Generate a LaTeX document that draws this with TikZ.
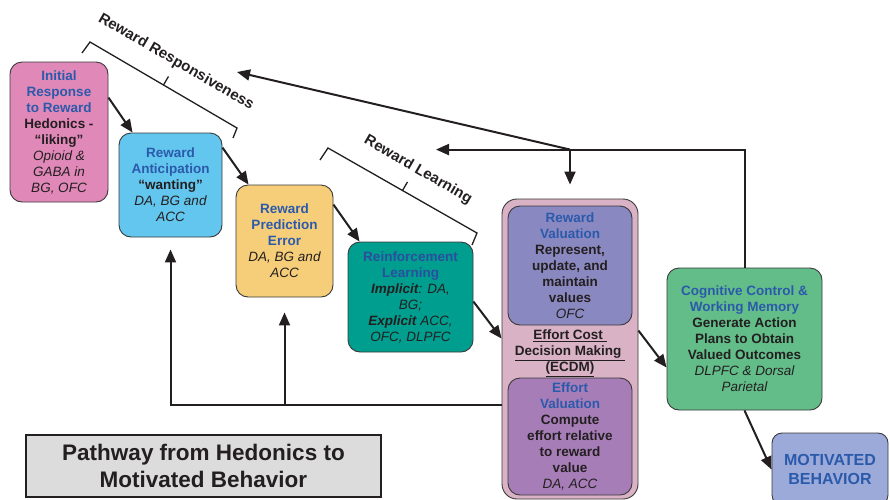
\documentclass[tikz,border=0pt]{standalone}
\usepackage{fontspec}
\setmainfont{Liberation Sans}
\usetikzlibrary{arrows.meta}

\definecolor{ink}{HTML}{231F20}
\definecolor{edge}{HTML}{3A3A3A}
\definecolor{tblue}{HTML}{2B5AAB}
\definecolor{rlblue}{HTML}{2A4FA0}
\definecolor{cpink}{HTML}{E088B8}
\definecolor{csky}{HTML}{62C6EE}
\definecolor{cyellow}{HTML}{F6CE7A}
\definecolor{cteal}{HTML}{009E8E}
\definecolor{cmauve}{HTML}{D9B2C6}
\definecolor{cviolet}{HTML}{8A88C0}
\definecolor{cplum}{HTML}{A77DB8}
\definecolor{cgreen}{HTML}{63BD89}
\definecolor{cperi}{HTML}{9BAAD9}
\definecolor{cgray}{HTML}{DCDCDC}

% heading lines in blue, brain-region lines in upright-weight italics
\newcommand\hd[1]{\textcolor{tblue}{#1}}
\newcommand\brain[1]{{\mdseries\itshape #1}}

\begin{document}
\begin{tikzpicture}[x=1pt,y=-1pt,
  box/.style={draw=edge, line width=0.9pt, rounded corners=12pt, inner sep=0pt,
    align=center, text=ink, font=\fontsize{13.5}{16}\selectfont\bfseries},
  arr/.style={draw=ink, line width=2pt, line join=miter,
    -{Triangle[length=13pt,width=11pt]}},
  link/.style={draw=ink, line width=2pt, line join=miter},
  brace/.style={draw=ink, line width=1.3pt, line join=miter},
  bracelabel/.style={text=ink, rotate=-30, inner sep=0pt,
    font=\fontsize{15}{18}\selectfont\bfseries}]

\useasboundingbox (0,0) rectangle (890,499);

% ---- stage boxes -------------------------------------------------------
\node[box, fill=cpink, minimum width=98pt, minimum height=140pt] (init) at (59,132)
  {\hd{Initial}\\\hd{Response}\\\hd{to Reward}\\Hedonics -\\“liking”\\
   \brain{Opioid \&}\\\brain{GABA in}\\\brain{BG, OFC}};

\node[box, fill=csky, minimum width=103pt, minimum height=104pt] (antic) at (170.5,185)
  {\hd{Reward}\\\hd{Anticipation}\\“wanting”\\\brain{DA, BG and}\\\brain{ACC}};

\node[box, fill=cyellow, minimum width=97pt, minimum height=112pt] (rpe) at (284.5,241)
  {\hd{Reward}\\\hd{Prediction}\\\hd{Error}\\\brain{DA, BG and}\\\brain{ACC}};

\node[box, fill=cteal, minimum width=125pt, minimum height=110pt] (rl) at (410.5,297)
  {\textcolor{rlblue}{Reinforcement}\\\textcolor{rlblue}{Learning}\\
   \textit{Implicit}\brain{: DA,}\\\brain{BG;}\\
   \textit{Explicit} \brain{ACC,}\\\brain{OFC, DLPFC}};

% effort cost decision making: outer frame with two valuation boxes
\node[box, fill=cmauve, rounded corners=15pt, minimum width=136pt, minimum height=300pt]
  (ecdm) at (570,349) {};

\node[box, fill=cviolet, minimum width=124pt, minimum height=119pt] (rv) at (570,265.5)
  {\hd{Reward}\\\hd{Valuation}\\Represent,\\update, and\\maintain\\values\\\brain{OFC}};

\node[align=center, text=ink, inner sep=0pt, font=\fontsize{13.5}{16}\selectfont\bfseries]
  (ecdmlabel) at (570,353)
  {\underline{Effort Cost }\\\underline{Decision Making }\\\underline{(ECDM)}};

\node[box, fill=cplum, minimum width=124pt, minimum height=117pt] (ev) at (570,436.5)
  {\hd{Effort}\\\hd{Valuation}\\Compute\\effort relative\\to reward\\value\\\brain{DA, ACC}};

\node[box, fill=cgreen, minimum width=155pt, minimum height=142pt] (cog) at (744.5,339)
  {\hd{Cognitive Control \&}\\\hd{Working Memory}\\Generate Action\\Plans to Obtain\\
   Valued Outcomes\\\brain{DLPFC \& Dorsal}\\\brain{Parietal}};

\node[box, fill=cperi, rounded corners=10pt, minimum width=116pt, minimum height=72pt,
  text=tblue, font=\fontsize{16}{19}\selectfont\bfseries] (mot) at (830,469)
  {MOTIVATED\\BEHAVIOR};

\node[draw=ink, line width=2pt, fill=cgray, minimum width=355pt, minimum height=62pt,
  inner sep=0pt, align=center, text=ink, font=\fontsize{22.5}{27}\selectfont\bfseries]
  (title) at (203.5,466) {Pathway from Hedonics to\\Motivated Behavior};

% ---- forward pathway ---------------------------------------------------
\draw[arr] ([yshift=-36pt]init.north east) -- ([xshift=14pt]antic.north west);
\draw[arr] ([yshift=-15pt]antic.north east) -- ([xshift=13pt]rpe.north west);
\draw[arr] ([yshift=-20pt]rpe.north east) -- ([xshift=12pt]rl.north west);
\draw[arr] ([yshift=-60pt]rl.north east) -- ([yshift=-140pt]ecdm.north west);
\draw[arr] ([yshift=-132pt]ecdm.north east) -- ([yshift=-100pt]cog.north west);
\draw[arr] (cog.south) -- ([yshift=-37pt]mot.north west);

% ---- feedback from cognitive control -----------------------------------
\coordinate (j) at ([yshift=49pt]ecdm.north);
\coordinate (rlend) at ([xshift=-134pt]j);
\coordinate (rrend) at (237,72);
\draw[link] (cog.north) |- (j);
\draw[arr] (j) -- (rlend);
\draw[arr] (j) -- (rrend);
\draw[arr, shorten >=14pt] (j) -- (ecdm.north);

% ---- feedback from effort cost decision making -------------------------
\coordinate (b) at ([yshift=-206pt]ecdm.north west);
\draw[arr, shorten >=12pt] (b) -| (antic.south);
\draw[arr, shorten >=15pt] (rpe.south |- b) -- (rpe.south);

% ---- brackets ----------------------------------------------------------
\draw[brace] (82,53) -- (90,42) -- (237,128) -- (233,138);
\draw[brace] (163.5,85) -- (168.5,76.4);
\node[bracelabel] (rrlabel) at (176,62) {Reward Responsiveness};

\draw[brace] (320,160) -- (328,148) -- (477,233) -- (472,245);
\draw[brace] (402.5,190.5) -- (407.5,181.9);
\node[bracelabel] (rllabel) at (418,170) {Reward Learning};

\end{tikzpicture}
\end{document}
